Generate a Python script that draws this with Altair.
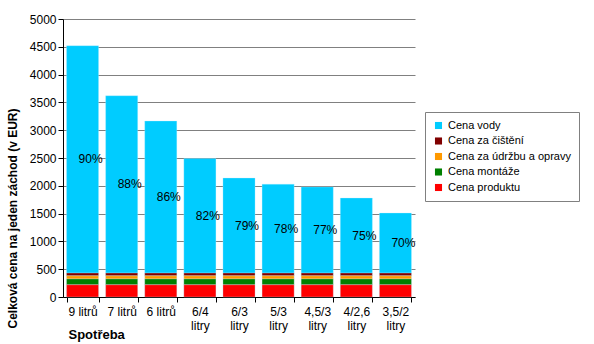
import altair as alt
import pandas as pd

categories = ["9 litrů", "7 litrů", "6 litrů", "6/4 litry", "6/3 litry",
              "5/3 litry", "4,5/3 litry", "4/2,6 litry", "3,5/2 litry"]
cena_produktu = [220, 220, 220, 220, 220, 220, 220, 220, 220]
cena_montaze = [105, 105, 105, 105, 105, 105, 105, 105, 105]
cena_udrzby = [55, 55, 55, 55, 55, 55, 55, 55, 55]
cena_cisteni = [50, 50, 50, 50, 50, 50, 50, 50, 50]
cena_vody = [4090, 3190, 2735, 2060, 1710, 1600, 1550, 1350, 1080]
procenta = ["90%", "88%", "86%", "82%", "79%", "78%", "77%", "75%", "70%"]
y_ticks = [0, 500, 1000, 1500, 2000, 2500, 3000, 3500, 4000, 4500, 5000]

series = ["Cena vody", "Cena za čištění", "Cena za údržbu a opravy",
          "Cena montáže", "Cena produktu"]
colors = ["#00CCFF", "#800000", "#FF9900", "#008000", "#FF0000"]
stack_order = {"Cena produktu": 0, "Cena montáže": 1,
               "Cena za údržbu a opravy": 2, "Cena za čištění": 3, "Cena vody": 4}

rows = []
for i, c in enumerate(categories):
    vals = {"Cena produktu": cena_produktu[i], "Cena montáže": cena_montaze[i],
            "Cena za údržbu a opravy": cena_udrzby[i], "Cena za čištění": cena_cisteni[i],
            "Cena vody": cena_vody[i]}
    for s in series:
        rows.append({"kat": c, "serie": s, "hodnota": vals[s], "poradi": stack_order[s]})
df = pd.DataFrame(rows)

lab = pd.DataFrame({
    "kat": categories,
    "text": procenta,
    "y": [cena_produktu[i] + cena_montaze[i] + cena_udrzby[i] + cena_cisteni[i] + cena_vody[i] / 2
          for i in range(len(categories))],
})

FONT = "Liberation Sans"

x_axis = alt.Axis(title="Spotřeba", labelAngle=0, labelFontSize=12, labelFont=FONT,
                  labelColor="black",
                  labelExpr="test(/\\//, datum.value) ? split(datum.value, ' ') : datum.value",
                  labelLineHeight=14, labelPadding=4, labelBaseline="top",
                  tickBand="extent", tickSize=5, tickColor="black",
                  domainColor="black", titleFont=FONT, titleFontSize=13,
                  titleFontWeight="bold", titleColor="black", titleAnchor="start",
                  titleAlign="left", titleX=5, titleY=44, titleBaseline="bottom")
y_axis = alt.Axis(title="Celková cena na jeden záchod (v EUR)", values=y_ticks,
                  format="d",
                  labelFontSize=12, labelFont=FONT, labelColor="black",
                  tickSize=5, tickColor="black", domainColor="black",
                  gridColor="#808080", gridWidth=1,
                  titleFont=FONT, titleFontSize=12, titleFontWeight="bold",
                  titleColor="black", titleX=-44, titleY=199)
x_scale = alt.Scale(paddingInner=0.18, paddingOuter=0.09)
y_scale = alt.Scale(domain=[0, 5000], nice=False)

bars = alt.Chart(df).mark_bar(stroke="#BFEFFF", strokeWidth=0.3).encode(
    x=alt.X("kat:N", sort=categories, scale=x_scale, axis=x_axis),
    y=alt.Y("hodnota:Q", stack="zero", scale=y_scale, axis=y_axis),
    color=alt.Color("serie:N", sort=series,
                    scale=alt.Scale(domain=series, range=colors),
                    legend=alt.Legend(title=None, orient="none", legendX=362, legendY=93,
                                      strokeColor="#808080", padding=8, symbolType="square",
                                      symbolSize=50, symbolStrokeWidth=0, labelFontSize=11,
                                      labelFont=FONT, labelColor="black", rowPadding=3.5,
                                      labelLimit=300, fillColor="white")),
    order=alt.Order("poradi:Q", sort="ascending"),
)

text = alt.Chart(lab).mark_text(fontSize=12, font=FONT, color="black", dx=8).encode(
    x=alt.X("kat:N", sort=categories, scale=x_scale, axis=x_axis),
    y=alt.Y("y:Q", scale=y_scale, axis=y_axis),
    text="text:N",
)

chart = alt.layer(bars, text).properties(
    width=352, height=278,
    autosize=alt.AutoSizeParams(type="none"),
    padding={"left": 63, "top": 19, "right": 179, "bottom": 47},
).configure_view(stroke=None)

chart.save("out.html", embed_options={"renderer": "svg", "actions": False})
